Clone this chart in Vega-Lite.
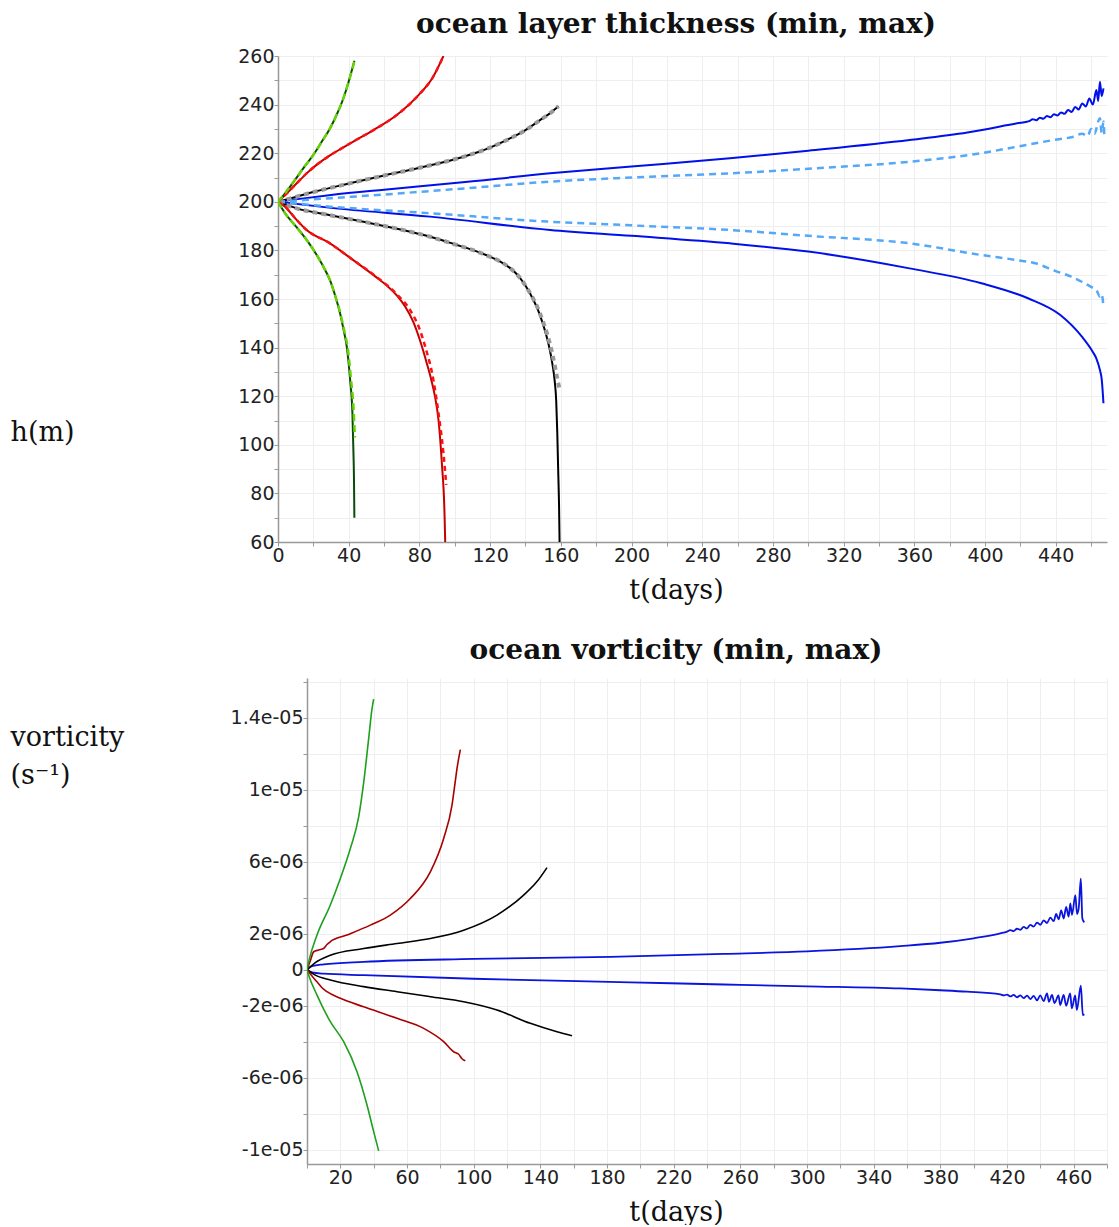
{
  "$schema": "https://vega.github.io/schema/vega-lite/v6.json",
  "padding": {"left": 9, "top": 11, "right": 5, "bottom": 0},
  "columns": 2,
  "align": {"row": "all", "column": "none"},
  "spacing": {"row": 33, "column": 0},
  "config": {
    "view": {"stroke": null},
    "axis": {
      "labelFont": "DejaVu Sans", "labelFontSize": 19, "labelColor": "#222",
      "titleFont": "DejaVu Serif", "titleFontSize": 27, "titleFontWeight": "normal", "titleColor": "#111",
      "gridColor": "#eeeeee", "gridWidth": 1,
      "domainColor": "#999", "domainWidth": 1.5,
      "tickColor": "#999", "tickSize": 4, "labelPadding": 0,
      "labelFlush": false, "labelOverlap": false, "labelBound": false
    },
    "title": {"font": "DejaVu Serif", "fontSize": 28, "fontWeight": "bold", "color": "#111", "anchor": "middle", "baseline": "alphabetic", "offset": 8}
  },
  "datasets": {
    "top": [
      {"k":"gs","b":"max","t":0,"h":200},{"k":"gs","b":"max","t":4,"h":203.5},{"k":"gs","b":"max","t":9.6,"h":209},{"k":"gs","b":"max","t":15,"h":214.5},{"k":"gs","b":"max","t":20,"h":219.3},{"k":"gs","b":"max","t":25,"h":225},{"k":"gs","b":"max","t":29.4,"h":230.2},{"k":"gs","b":"max","t":33,"h":235.5},{"k":"gs","b":"max","t":37,"h":242.6},{"k":"gs","b":"max","t":40,"h":249.5},{"k":"gs","b":"max","t":43.2,"h":258},
      {"k":"gd","b":"max","t":0,"h":200},{"k":"gd","b":"max","t":4,"h":203.5},{"k":"gd","b":"max","t":9.6,"h":209},{"k":"gd","b":"max","t":15,"h":214.5},{"k":"gd","b":"max","t":20,"h":219.3},{"k":"gd","b":"max","t":25,"h":225},{"k":"gd","b":"max","t":29.4,"h":230.2},{"k":"gd","b":"max","t":33,"h":235.5},{"k":"gd","b":"max","t":37,"h":242.6},{"k":"gd","b":"max","t":40,"h":249.5},{"k":"gd","b":"max","t":43.4,"h":258.3},
      {"k":"gs","b":"min","t":0,"h":200},{"k":"gs","b":"min","t":4,"h":195.3},{"k":"gs","b":"min","t":10,"h":190},{"k":"gs","b":"min","t":16.2,"h":184.3},{"k":"gs","b":"min","t":22,"h":178},{"k":"gs","b":"min","t":27.6,"h":170.6},{"k":"gs","b":"min","t":29.4,"h":167.8},{"k":"gs","b":"min","t":32.5,"h":161},{"k":"gs","b":"min","t":35.1,"h":154.1},{"k":"gs","b":"min","t":37.2,"h":147},{"k":"gs","b":"min","t":38.9,"h":140.4},{"k":"gs","b":"min","t":40.8,"h":126.7},{"k":"gs","b":"min","t":42.1,"h":113},{"k":"gs","b":"min","t":42.6,"h":99.2},{"k":"gs","b":"min","t":43,"h":85},{"k":"gs","b":"min","t":43.2,"h":70},
      {"k":"gd","b":"min","t":0,"h":200},{"k":"gd","b":"min","t":4,"h":195.3},{"k":"gd","b":"min","t":10,"h":190},{"k":"gd","b":"min","t":16.2,"h":184.3},{"k":"gd","b":"min","t":22,"h":178},{"k":"gd","b":"min","t":27.6,"h":170.6},{"k":"gd","b":"min","t":29.4,"h":167.8},{"k":"gd","b":"min","t":32.5,"h":161},{"k":"gd","b":"min","t":35.2,"h":154.3},{"k":"gd","b":"min","t":37.5,"h":147},{"k":"gd","b":"min","t":39.3,"h":140.5},{"k":"gd","b":"min","t":41.3,"h":127},{"k":"gd","b":"min","t":42.8,"h":114},{"k":"gd","b":"min","t":43.5,"h":103},
      {"k":"rs","b":"max","t":0,"h":200},{"k":"rs","b":"max","t":4,"h":202.8},{"k":"rs","b":"max","t":8.7,"h":206.2},{"k":"rs","b":"max","t":16.2,"h":211.7},{"k":"rs","b":"max","t":22,"h":215.3},{"k":"rs","b":"max","t":29.4,"h":219.1},{"k":"rs","b":"max","t":36,"h":222},{"k":"rs","b":"max","t":42.6,"h":224.8},{"k":"rs","b":"max","t":54,"h":229.5},{"k":"rs","b":"max","t":67.2,"h":235.7},{"k":"rs","b":"max","t":80.4,"h":244.6},{"k":"rs","b":"max","t":87,"h":250.5},{"k":"rs","b":"max","t":93.6,"h":260},
      {"k":"rd","b":"max","t":0,"h":200},{"k":"rd","b":"max","t":4,"h":202.8},{"k":"rd","b":"max","t":8.7,"h":206.2},{"k":"rd","b":"max","t":16.2,"h":211.7},{"k":"rd","b":"max","t":22,"h":215.3},{"k":"rd","b":"max","t":29.4,"h":219.1},{"k":"rd","b":"max","t":36,"h":222},{"k":"rd","b":"max","t":42.6,"h":224.8},{"k":"rd","b":"max","t":54,"h":229.5},{"k":"rd","b":"max","t":67.2,"h":235.7},{"k":"rd","b":"max","t":80.4,"h":244.6},{"k":"rd","b":"max","t":87,"h":250.5},{"k":"rd","b":"max","t":93.6,"h":260},
      {"k":"rs","b":"min","t":0,"h":200},{"k":"rs","b":"min","t":4,"h":198},{"k":"rs","b":"min","t":10,"h":193},{"k":"rs","b":"min","t":16.2,"h":188.4},{"k":"rs","b":"min","t":29.4,"h":182.9},{"k":"rs","b":"min","t":42.6,"h":176},{"k":"rs","b":"min","t":55.9,"h":168.8},{"k":"rs","b":"min","t":62,"h":165.2},{"k":"rs","b":"min","t":67.2,"h":161.5},{"k":"rs","b":"min","t":72,"h":156.8},{"k":"rs","b":"min","t":76.6,"h":150.5},{"k":"rs","b":"min","t":80.5,"h":142.6},{"k":"rs","b":"min","t":84.2,"h":133.5},{"k":"rs","b":"min","t":86.8,"h":126.5},{"k":"rs","b":"min","t":88.9,"h":119.5},{"k":"rs","b":"min","t":90.8,"h":110.2},{"k":"rs","b":"min","t":92.7,"h":92.4},{"k":"rs","b":"min","t":94.2,"h":71.8},{"k":"rs","b":"min","t":94.6,"h":60},
      {"k":"rd","b":"min","t":0,"h":200},{"k":"rd","b":"min","t":4,"h":198},{"k":"rd","b":"min","t":10,"h":193},{"k":"rd","b":"min","t":16.2,"h":188.4},{"k":"rd","b":"min","t":29.4,"h":182.9},{"k":"rd","b":"min","t":42.6,"h":176},{"k":"rd","b":"min","t":55.9,"h":169},{"k":"rd","b":"min","t":67.2,"h":162},{"k":"rd","b":"min","t":74.7,"h":155.5},{"k":"rd","b":"min","t":80,"h":147.8},{"k":"rd","b":"min","t":83.2,"h":140.6},{"k":"rd","b":"min","t":87.9,"h":126.7},{"k":"rd","b":"min","t":90.8,"h":113},{"k":"rd","b":"min","t":93.6,"h":96.5},{"k":"rd","b":"min","t":95.2,"h":83.5},
      {"k":"ks","b":"max","t":0,"h":200},{"k":"ks","b":"max","t":10,"h":202},{"k":"ks","b":"max","t":20,"h":204},{"k":"ks","b":"max","t":40,"h":207.5},{"k":"ks","b":"max","t":60,"h":210.8},{"k":"ks","b":"max","t":80,"h":214},{"k":"ks","b":"max","t":100,"h":217.5},{"k":"ks","b":"max","t":112.5,"h":220.3},{"k":"ks","b":"max","t":120,"h":222.3},{"k":"ks","b":"max","t":133.2,"h":226.8},{"k":"ks","b":"max","t":140,"h":229.5},{"k":"ks","b":"max","t":148.4,"h":233.7},{"k":"ks","b":"max","t":154,"h":236.5},{"k":"ks","b":"max","t":158.7,"h":239.3},
      {"k":"kd","b":"max","t":0,"h":200},{"k":"kd","b":"max","t":10,"h":202},{"k":"kd","b":"max","t":20,"h":204},{"k":"kd","b":"max","t":40,"h":207.5},{"k":"kd","b":"max","t":60,"h":210.8},{"k":"kd","b":"max","t":80,"h":214},{"k":"kd","b":"max","t":100,"h":217.5},{"k":"kd","b":"max","t":112.5,"h":220.3},{"k":"kd","b":"max","t":120,"h":222.3},{"k":"kd","b":"max","t":133.2,"h":226.8},{"k":"kd","b":"max","t":140,"h":229.5},{"k":"kd","b":"max","t":148.4,"h":233.7},{"k":"kd","b":"max","t":154,"h":236.5},{"k":"kd","b":"max","t":158.7,"h":239.3},
      {"k":"ks","b":"min","t":0,"h":200},{"k":"ks","b":"min","t":10.6,"h":197.3},{"k":"ks","b":"min","t":29.4,"h":194.5},{"k":"ks","b":"min","t":48.3,"h":191.8},{"k":"ks","b":"min","t":70,"h":188.5},{"k":"ks","b":"min","t":86.1,"h":185.6},{"k":"ks","b":"min","t":100,"h":182.5},{"k":"ks","b":"min","t":110,"h":180.2},{"k":"ks","b":"min","t":120,"h":177.4},{"k":"ks","b":"min","t":126,"h":175.3},{"k":"ks","b":"min","t":131,"h":172.9},{"k":"ks","b":"min","t":135,"h":170.3},{"k":"ks","b":"min","t":138,"h":167.6},{"k":"ks","b":"min","t":141,"h":164.3},{"k":"ks","b":"min","t":144,"h":160.3},{"k":"ks","b":"min","t":147,"h":155.6},{"k":"ks","b":"min","t":149.5,"h":150.6},{"k":"ks","b":"min","t":151.8,"h":145},{"k":"ks","b":"min","t":153.8,"h":139},{"k":"ks","b":"min","t":155.3,"h":133},{"k":"ks","b":"min","t":156.5,"h":126.5},{"k":"ks","b":"min","t":157.4,"h":118},{"k":"ks","b":"min","t":158,"h":105},{"k":"ks","b":"min","t":158.5,"h":90},{"k":"ks","b":"min","t":159,"h":75},{"k":"ks","b":"min","t":159.3,"h":60},
      {"k":"kd","b":"min","t":0,"h":200},{"k":"kd","b":"min","t":10.6,"h":197.3},{"k":"kd","b":"min","t":29.4,"h":194.5},{"k":"kd","b":"min","t":48.3,"h":191.8},{"k":"kd","b":"min","t":70,"h":188.5},{"k":"kd","b":"min","t":86.1,"h":185.6},{"k":"kd","b":"min","t":100,"h":182.5},{"k":"kd","b":"min","t":110,"h":180.2},{"k":"kd","b":"min","t":120,"h":177.4},{"k":"kd","b":"min","t":126,"h":175.3},{"k":"kd","b":"min","t":131,"h":172.9},{"k":"kd","b":"min","t":135,"h":170.3},{"k":"kd","b":"min","t":138,"h":167.6},{"k":"kd","b":"min","t":141,"h":164.4},{"k":"kd","b":"min","t":144,"h":160.6},{"k":"kd","b":"min","t":147,"h":156.2},{"k":"kd","b":"min","t":150,"h":150.5},{"k":"kd","b":"min","t":152.5,"h":145},{"k":"kd","b":"min","t":154.7,"h":139},{"k":"kd","b":"min","t":156.5,"h":133},{"k":"kd","b":"min","t":157.8,"h":128},{"k":"kd","b":"min","t":158.8,"h":124.5},{"k":"kd","b":"min","t":159.3,"h":123},
      {"k":"bs","b":"max","t":0,"h":200},{"k":"bs","b":"max","t":10,"h":201},{"k":"bs","b":"max","t":30,"h":202.8},{"k":"bs","b":"max","t":60,"h":205},{"k":"bs","b":"max","t":100,"h":207.7},{"k":"bs","b":"max","t":154,"h":211.7},{"k":"bs","b":"max","t":200,"h":214.5},{"k":"bs","b":"max","t":255.7,"h":217.9},{"k":"bs","b":"max","t":300,"h":221},{"k":"bs","b":"max","t":357.3,"h":225.4},{"k":"bs","b":"max","t":390,"h":228.5},{"k":"bs","b":"max","t":418.2,"h":232.3},{"k":"bs","b":"max","t":425,"h":233.2},{"k":"bs","b":"max","t":427,"h":234},{"k":"bs","b":"max","t":429,"h":233.6},{"k":"bs","b":"max","t":431,"h":234.6},{"k":"bs","b":"max","t":433,"h":234.2},{"k":"bs","b":"max","t":435,"h":235.3},{"k":"bs","b":"max","t":437,"h":234.8},{"k":"bs","b":"max","t":439,"h":236},{"k":"bs","b":"max","t":441,"h":235.5},{"k":"bs","b":"max","t":443,"h":236.8},{"k":"bs","b":"max","t":445,"h":236.2},{"k":"bs","b":"max","t":447,"h":237.8},{"k":"bs","b":"max","t":449,"h":237},{"k":"bs","b":"max","t":451,"h":239},{"k":"bs","b":"max","t":453,"h":238},{"k":"bs","b":"max","t":455,"h":240.5},{"k":"bs","b":"max","t":457,"h":239.2},{"k":"bs","b":"max","t":459,"h":242.5},{"k":"bs","b":"max","t":461,"h":240},{"k":"bs","b":"max","t":463,"h":246},{"k":"bs","b":"max","t":464,"h":241.5},{"k":"bs","b":"max","t":465,"h":249.4},{"k":"bs","b":"max","t":466,"h":243.5},{"k":"bs","b":"max","t":467,"h":246.7},
      {"k":"bd","b":"max","t":0,"h":200},{"k":"bd","b":"max","t":30,"h":201.5},{"k":"bd","b":"max","t":60,"h":203},{"k":"bd","b":"max","t":100,"h":205.2},{"k":"bd","b":"max","t":154,"h":208.3},{"k":"bd","b":"max","t":200,"h":210},{"k":"bd","b":"max","t":255.7,"h":211.7},{"k":"bd","b":"max","t":300,"h":213.6},{"k":"bd","b":"max","t":357.3,"h":216.5},{"k":"bd","b":"max","t":397.9,"h":220},{"k":"bd","b":"max","t":418.2,"h":222.7},{"k":"bd","b":"max","t":438.6,"h":225.4},{"k":"bd","b":"max","t":450,"h":226.8},{"k":"bd","b":"max","t":455,"h":228},{"k":"bd","b":"max","t":458,"h":227},{"k":"bd","b":"max","t":460,"h":230},{"k":"bd","b":"max","t":462,"h":228},{"k":"bd","b":"max","t":464,"h":233},{"k":"bd","b":"max","t":465,"h":234.4},{"k":"bd","b":"max","t":466,"h":228.5},{"k":"bd","b":"max","t":467,"h":233},{"k":"bd","b":"max","t":467.5,"h":226.8},
      {"k":"bs","b":"min","t":0,"h":200},{"k":"bs","b":"min","t":30,"h":197.5},{"k":"bs","b":"min","t":86,"h":193.9},{"k":"bs","b":"min","t":154,"h":188.4},{"k":"bs","b":"min","t":200,"h":186},{"k":"bs","b":"min","t":255.7,"h":182.9},{"k":"bs","b":"min","t":300,"h":179.5},{"k":"bs","b":"min","t":357.3,"h":172.6},{"k":"bs","b":"min","t":397.9,"h":166.5},{"k":"bs","b":"min","t":424.3,"h":160.3},{"k":"bs","b":"min","t":442.6,"h":153.4},{"k":"bs","b":"min","t":454.8,"h":144.5},{"k":"bs","b":"min","t":460.9,"h":138.3},{"k":"bs","b":"min","t":463,"h":135.5},{"k":"bs","b":"min","t":465,"h":130.8},{"k":"bs","b":"min","t":466,"h":127},{"k":"bs","b":"min","t":467,"h":117.1},
      {"k":"bd","b":"min","t":0,"h":200},{"k":"bd","b":"min","t":30,"h":198},{"k":"bd","b":"min","t":86,"h":195.3},{"k":"bd","b":"min","t":154,"h":191.8},{"k":"bd","b":"min","t":200,"h":190.3},{"k":"bd","b":"min","t":255.7,"h":188.4},{"k":"bd","b":"min","t":300,"h":186},{"k":"bd","b":"min","t":357.3,"h":182.9},{"k":"bd","b":"min","t":397.9,"h":178.1},{"k":"bd","b":"min","t":418.2,"h":176},{"k":"bd","b":"min","t":428.4,"h":174.7},{"k":"bd","b":"min","t":440,"h":171.5},{"k":"bd","b":"min","t":448.8,"h":169.2},{"k":"bd","b":"min","t":455,"h":167},{"k":"bd","b":"min","t":460,"h":165},{"k":"bd","b":"min","t":463,"h":163.7},{"k":"bd","b":"min","t":465,"h":161},{"k":"bd","b":"min","t":466,"h":162},{"k":"bd","b":"min","t":467,"h":156.8}
    ],
    "bot": [
      {"k":"g","b":"max","t":0,"v":0},{"k":"g","b":"max","t":1,"v":4.4e-7},{"k":"g","b":"max","t":6,"v":1.93e-6},{"k":"g","b":"max","t":14,"v":3.6e-6},{"k":"g","b":"max","t":20,"v":5.07e-6},{"k":"g","b":"max","t":26,"v":6.74e-6},{"k":"g","b":"max","t":31,"v":8.5e-6},{"k":"g","b":"max","t":34,"v":1.04e-5},{"k":"g","b":"max","t":37,"v":1.285e-5},{"k":"g","b":"max","t":39,"v":1.45e-5},{"k":"g","b":"max","t":40,"v":1.504e-5},
      {"k":"g","b":"min","t":0,"v":0},{"k":"g","b":"min","t":1,"v":-3e-7},{"k":"g","b":"min","t":6,"v":-1.41e-6},{"k":"g","b":"min","t":14,"v":-2.89e-6},{"k":"g","b":"min","t":22,"v":-4e-6},{"k":"g","b":"min","t":30,"v":-5.67e-6},{"k":"g","b":"min","t":36,"v":-7.52e-6},{"k":"g","b":"min","t":40,"v":-9e-6},{"k":"g","b":"min","t":43,"v":-1.007e-5},
      {"k":"r","b":"max","t":0,"v":0},{"k":"r","b":"max","t":2,"v":5e-7},{"k":"r","b":"max","t":4,"v":1e-6},{"k":"r","b":"max","t":7,"v":1.1e-6},{"k":"r","b":"max","t":10,"v":1.18e-6},{"k":"r","b":"max","t":12,"v":1.4e-6},{"k":"r","b":"max","t":14,"v":1.56e-6},{"k":"r","b":"max","t":24,"v":1.93e-6},{"k":"r","b":"max","t":38,"v":2.48e-6},{"k":"r","b":"max","t":50,"v":3.04e-6},{"k":"r","b":"max","t":62,"v":3.96e-6},{"k":"r","b":"max","t":74,"v":5.44e-6},{"k":"r","b":"max","t":82,"v":7.3e-6},{"k":"r","b":"max","t":87,"v":9.15e-6},{"k":"r","b":"max","t":89,"v":1.05e-5},{"k":"r","b":"max","t":90,"v":1.118e-5},{"k":"r","b":"max","t":92,"v":1.224e-5},
      {"k":"r","b":"min","t":0,"v":0},{"k":"r","b":"min","t":3,"v":-3.5e-7},{"k":"r","b":"min","t":6,"v":-6.7e-7},{"k":"r","b":"min","t":9,"v":-1e-6},{"k":"r","b":"min","t":12,"v":-1.22e-6},{"k":"r","b":"min","t":20,"v":-1.59e-6},{"k":"r","b":"min","t":34,"v":-2.06e-6},{"k":"r","b":"min","t":54,"v":-2.7e-6},{"k":"r","b":"min","t":70,"v":-3.26e-6},{"k":"r","b":"min","t":82,"v":-4e-6},{"k":"r","b":"min","t":88,"v":-4.56e-6},{"k":"r","b":"min","t":91,"v":-4.7e-6},{"k":"r","b":"min","t":93,"v":-4.95e-6},{"k":"r","b":"min","t":95,"v":-5.06e-6},
      {"k":"k","b":"max","t":0,"v":0},{"k":"k","b":"max","t":5,"v":4e-7},{"k":"k","b":"max","t":14,"v":8.1e-7},{"k":"k","b":"max","t":34,"v":1.18e-6},{"k":"k","b":"max","t":54,"v":1.46e-6},{"k":"k","b":"max","t":74,"v":1.74e-6},{"k":"k","b":"max","t":94,"v":2.2e-6},{"k":"k","b":"max","t":114,"v":3.04e-6},{"k":"k","b":"max","t":130,"v":4.15e-6},{"k":"k","b":"max","t":138,"v":4.9e-6},{"k":"k","b":"max","t":144,"v":5.68e-6},
      {"k":"k","b":"min","t":0,"v":0},{"k":"k","b":"min","t":5,"v":-3e-7},{"k":"k","b":"min","t":14,"v":-5.7e-7},{"k":"k","b":"min","t":34,"v":-9.4e-7},{"k":"k","b":"min","t":54,"v":-1.22e-6},{"k":"k","b":"min","t":74,"v":-1.5e-6},{"k":"k","b":"min","t":94,"v":-1.78e-6},{"k":"k","b":"min","t":114,"v":-2.24e-6},{"k":"k","b":"min","t":134,"v":-2.98e-6},{"k":"k","b":"min","t":150,"v":-3.45e-6},{"k":"k","b":"min","t":159,"v":-3.67e-6},
      {"k":"b","b":"max","t":0,"v":0},{"k":"b","b":"max","t":3,"v":2e-7},{"k":"b","b":"max","t":10,"v":3e-7},{"k":"b","b":"max","t":34,"v":4.4e-7},{"k":"b","b":"max","t":100,"v":6e-7},{"k":"b","b":"max","t":182,"v":7.2e-7},{"k":"b","b":"max","t":250,"v":8.8e-7},{"k":"b","b":"max","t":300,"v":1.02e-6},{"k":"b","b":"max","t":356,"v":1.31e-6},{"k":"b","b":"max","t":380,"v":1.5e-6},{"k":"b","b":"max","t":400,"v":1.75e-6},{"k":"b","b":"max","t":416,"v":2.02e-6},{"k":"b","b":"max","t":420,"v":2.12e-6},{"k":"b","b":"max","t":422,"v":2.2e-6},{"k":"b","b":"max","t":424,"v":2.15e-6},{"k":"b","b":"max","t":426,"v":2.28e-6},{"k":"b","b":"max","t":428,"v":2.22e-6},{"k":"b","b":"max","t":430,"v":2.38e-6},{"k":"b","b":"max","t":432,"v":2.3e-6},{"k":"b","b":"max","t":434,"v":2.5e-6},{"k":"b","b":"max","t":436,"v":2.4e-6},{"k":"b","b":"max","t":438,"v":2.62e-6},{"k":"b","b":"max","t":440,"v":2.5e-6},{"k":"b","b":"max","t":442,"v":2.75e-6},{"k":"b","b":"max","t":444,"v":2.6e-6},{"k":"b","b":"max","t":446,"v":2.9e-6},{"k":"b","b":"max","t":448,"v":2.7e-6},{"k":"b","b":"max","t":449.5,"v":3.1e-6},{"k":"b","b":"max","t":451,"v":2.8e-6},{"k":"b","b":"max","t":452.5,"v":3.3e-6},{"k":"b","b":"max","t":454,"v":2.85e-6},{"k":"b","b":"max","t":455.5,"v":3.5e-6},{"k":"b","b":"max","t":457,"v":2.95e-6},{"k":"b","b":"max","t":458,"v":3.69e-6},{"k":"b","b":"max","t":459,"v":3.05e-6},{"k":"b","b":"max","t":461,"v":4.15e-6},{"k":"b","b":"max","t":462,"v":3.1e-6},{"k":"b","b":"max","t":463,"v":3.4e-6},{"k":"b","b":"max","t":464.3,"v":5.07e-6},{"k":"b","b":"max","t":465.2,"v":2.85e-6},{"k":"b","b":"max","t":466.4,"v":2.63e-6},
      {"k":"b","b":"min","t":0,"v":0},{"k":"b","b":"min","t":3,"v":-1.5e-7},{"k":"b","b":"min","t":10,"v":-2.2e-7},{"k":"b","b":"min","t":34,"v":-3e-7},{"k":"b","b":"min","t":100,"v":-5e-7},{"k":"b","b":"min","t":194,"v":-7e-7},{"k":"b","b":"min","t":250,"v":-8.2e-7},{"k":"b","b":"min","t":300,"v":-9.2e-7},{"k":"b","b":"min","t":356,"v":-1.04e-6},{"k":"b","b":"min","t":380,"v":-1.14e-6},{"k":"b","b":"min","t":396,"v":-1.22e-6},{"k":"b","b":"min","t":416,"v":-1.37e-6},{"k":"b","b":"min","t":418,"v":-1.43e-6},{"k":"b","b":"min","t":420,"v":-1.38e-6},{"k":"b","b":"min","t":422,"v":-1.48e-6},{"k":"b","b":"min","t":424,"v":-1.4e-6},{"k":"b","b":"min","t":426,"v":-1.53e-6},{"k":"b","b":"min","t":428,"v":-1.42e-6},{"k":"b","b":"min","t":430,"v":-1.58e-6},{"k":"b","b":"min","t":432,"v":-1.44e-6},{"k":"b","b":"min","t":434,"v":-1.63e-6},{"k":"b","b":"min","t":436,"v":-1.45e-6},{"k":"b","b":"min","t":438,"v":-1.7e-6},{"k":"b","b":"min","t":440,"v":-1.42e-6},{"k":"b","b":"min","t":442,"v":-1.75e-6},{"k":"b","b":"min","t":444,"v":-1.31e-6},{"k":"b","b":"min","t":445.2,"v":-1.78e-6},{"k":"b","b":"min","t":447,"v":-1.4e-6},{"k":"b","b":"min","t":448.5,"v":-1.85e-6},{"k":"b","b":"min","t":450.9,"v":-1.43e-6},{"k":"b","b":"min","t":451.9,"v":-1.96e-6},{"k":"b","b":"min","t":454,"v":-1.4e-6},{"k":"b","b":"min","t":455.5,"v":-2e-6},{"k":"b","b":"min","t":457.9,"v":-1.31e-6},{"k":"b","b":"min","t":458.9,"v":-2.15e-6},{"k":"b","b":"min","t":460.9,"v":-1.43e-6},{"k":"b","b":"min","t":461.9,"v":-2.24e-6},{"k":"b","b":"min","t":464.3,"v":-8.9e-7},{"k":"b","b":"min","t":465.5,"v":-2.52e-6},{"k":"b","b":"min","t":466.4,"v":-2.48e-6}
    ]
  },
  "concat": [
    {"width": 1, "height": 1, "data": {"values": []}, "mark": "point"},
    {
      "width": 829, "height": 486,
      "title": {"text": "ocean layer thickness (min, max)", "dx": -16.5},
      "data": {"name": "top"},
      "encoding": {
        "x": {"field": "t", "type": "quantitative", "scale": {"domain": [0, 469], "nice": false, "zero": false},
          "axis": {"values": [0,20,40,60,80,100,120,140,160,180,200,220,240,260,280,300,320,340,360,380,400,420,440,460],
            "labelExpr": "datum.value % 40 == 0 ? datum.label : ''",
            "title": "t(days)", "titleX": 398, "titleY": 56, "titleAlign": "center", "titleBaseline": "alphabetic"}},
        "y": {"field": "h", "type": "quantitative", "scale": {"domain": [60, 260], "nice": false, "zero": false},
          "axis": {"values": [60,70,80,90,100,110,120,130,140,150,160,170,180,190,200,210,220,230,240,250,260],
            "labelExpr": "datum.value % 20 == 0 ? datum.label : ''",
            "title": "h(m)", "titleAngle": 0, "titleAlign": "left", "titleBaseline": "alphabetic", "titleX": -268, "titleY": 384}},
        "detail": {"field": "b", "type": "nominal"}
      },
      "layer": [
        {"transform": [{"filter": "datum.k == 'bs'"}], "mark": {"type": "line", "color": "#0010e8", "strokeWidth": 2, "interpolate": "monotone", "clip": true}},
        {"transform": [{"filter": "datum.k == 'ks'"}], "mark": {"type": "line", "color": "#000000", "strokeWidth": 2, "interpolate": "monotone", "clip": true}},
        {"transform": [{"filter": "datum.k == 'rs'"}], "mark": {"type": "line", "color": "#c40000", "strokeWidth": 2, "interpolate": "monotone", "clip": true}},
        {"transform": [{"filter": "datum.k == 'gs'"}], "mark": {"type": "line", "color": "#0b4a0b", "strokeWidth": 2, "interpolate": "monotone", "clip": true}},
        {"transform": [{"filter": "datum.k == 'bd'"}], "mark": {"type": "line", "color": "#55a8f8", "strokeWidth": 2.5, "strokeDash": [7, 5], "interpolate": "monotone", "clip": true}},
        {"transform": [{"filter": "datum.k == 'kd'"}], "mark": {"type": "line", "color": "#9a9a9a", "strokeWidth": 4, "strokeDash": [5, 4], "interpolate": "monotone", "clip": true}},
        {"transform": [{"filter": "datum.k == 'rd'"}], "mark": {"type": "line", "color": "#ff1010", "strokeWidth": 2.5, "strokeDash": [5, 4], "interpolate": "monotone", "clip": true}},
        {"transform": [{"filter": "datum.k == 'gd'"}], "mark": {"type": "line", "color": "#66d400", "strokeWidth": 2.5, "strokeDash": [7, 4], "interpolate": "monotone", "clip": true}}
      ]
    },
    {"width": 1, "height": 1, "data": {"values": []}, "mark": "point"},
    {
      "width": 800, "height": 486,
      "title": {"text": "ocean vorticity (min, max)", "dx": -31},
      "data": {"name": "bot"},
      "encoding": {
        "x": {"field": "t", "type": "quantitative", "scale": {"domain": [0, 480], "nice": false, "zero": false},
          "axis": {"values": [0,20,40,60,80,100,120,140,160,180,200,220,240,260,280,300,320,340,360,380,400,420,440,460,480],
            "labelExpr": "datum.value % 40 == 20 ? datum.label : ''",
            "title": "t(days)", "titleX": 369, "titleY": 56, "titleAlign": "center", "titleBaseline": "alphabetic"}},
        "y": {"field": "v", "type": "quantitative", "scale": {"domain": [-1.08e-5, 1.622e-5], "nice": false, "zero": false},
          "axis": {"values": [-1e-5,-8e-6,-6e-6,-4e-6,-2e-6,0,2e-6,4e-6,6e-6,8e-6,1e-5,1.2e-5,1.4e-5,1.6e-5],
            "labelExpr": "datum.value == 0 ? '0' : (abs(round(datum.value*1e6)) % 4 == 2 ? replace(replace(format(datum.value, '~e'), '−', '-'), regexp('e-([0-9])$'), 'e-0$1') : '')",
            "title": ["vorticity", "(s⁻¹)"], "titleLineHeight": 38, "titleAngle": 0, "titleAlign": "left", "titleBaseline": "alphabetic", "titleX": -297, "titleY": 67}},
        "detail": {"field": "b", "type": "nominal"}
      },
      "layer": [
        {"transform": [{"filter": "datum.k == 'b'"}], "mark": {"type": "line", "color": "#0a14dc", "strokeWidth": 1.8, "interpolate": "monotone", "clip": true}},
        {"transform": [{"filter": "datum.k == 'k'"}], "mark": {"type": "line", "color": "#000000", "strokeWidth": 1.6, "interpolate": "monotone", "clip": true}},
        {"transform": [{"filter": "datum.k == 'r'"}], "mark": {"type": "line", "color": "#a80000", "strokeWidth": 1.6, "interpolate": "monotone", "clip": true}},
        {"transform": [{"filter": "datum.k == 'g'"}], "mark": {"type": "line", "color": "#1ea01e", "strokeWidth": 1.6, "interpolate": "monotone", "clip": true}}
      ]
    }
  ]
}
